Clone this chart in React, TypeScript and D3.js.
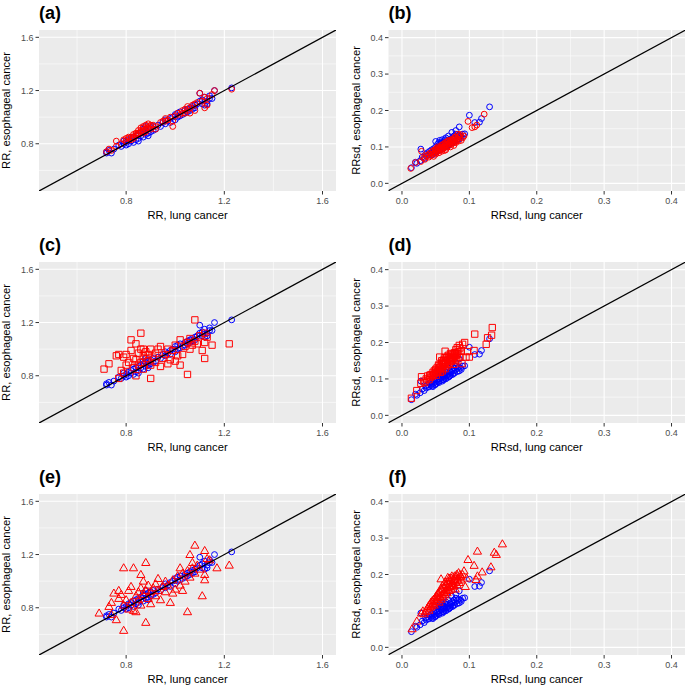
import React from "react";
import * as d3 from "d3";

// ---------- DATA ----------
// RR (lung, esophageal) – reference method (blue circles), same in a, c, e
const rrBlue: [number, number][] = [
  [0.72,0.74],[0.72,0.73],[0.73,0.75],[0.74,0.73],[0.75,0.76],[0.77,0.79],[0.78,0.78],[0.79,0.80],
  [0.79,0.82],[0.80,0.79],[0.80,0.81],[0.81,0.83],[0.81,0.80],[0.82,0.82],[0.82,0.84],[0.83,0.81],
  [0.83,0.85],[0.84,0.83],[0.84,0.86],[0.85,0.84],[0.85,0.87],[0.85,0.82],[0.86,0.86],[0.86,0.88],
  [0.87,0.85],[0.87,0.89],[0.87,0.91],[0.88,0.87],[0.88,0.90],[0.88,0.93],[0.89,0.88],[0.89,0.91],
  [0.89,0.86],[0.90,0.89],[0.90,0.92],[0.91,0.90],[0.91,0.93],[0.92,0.91],[0.93,0.94],[0.94,0.93],
  [0.95,0.96],[0.96,0.95],[0.96,0.98],[0.97,0.97],[0.98,0.99],[0.98,0.96],[0.99,1.00],[1.00,0.98],
  [1.00,1.02],[1.01,1.03],[1.01,1.00],[1.02,1.01],[1.02,1.04],[1.03,1.02],[1.04,1.05],[1.04,1.03],
  [1.05,1.06],[1.05,1.04],[1.06,1.07],[1.06,1.05],[1.07,1.08],[1.07,1.06],[1.08,1.09],[1.08,1.07],
  [1.09,1.10],[1.10,1.12],[1.10,1.18],[1.11,1.10],[1.11,1.13],[1.12,1.15],[1.12,1.09],[1.13,1.12],
  [1.13,1.10],[1.14,1.14],[1.14,1.16],[1.15,1.14],[1.16,1.20],[1.23,1.22],
];
// panel (a) red circles
const rrRedA: [number, number][] = [
  [0.72,0.74],[0.73,0.76],[0.74,0.75],[0.76,0.78],[0.76,0.82],[0.78,0.80],[0.79,0.83],[0.80,0.84],
  [0.80,0.82],[0.81,0.84],[0.82,0.85],[0.82,0.83],[0.83,0.87],[0.83,0.85],[0.84,0.88],[0.84,0.86],
  [0.85,0.90],[0.85,0.87],[0.86,0.89],[0.86,0.92],[0.87,0.90],[0.87,0.93],[0.87,0.88],[0.88,0.94],
  [0.88,0.91],[0.89,0.92],[0.89,0.95],[0.90,0.93],[0.90,0.91],[0.91,0.94],[0.92,0.91],[0.92,0.93],
  [0.94,0.96],[0.95,0.97],[0.96,0.99],[0.97,0.98],[0.98,1.00],[0.99,0.93],[0.99,0.97],[1.00,1.01],
  [1.01,1.03],[1.02,1.02],[1.03,1.05],[1.04,1.03],[1.04,1.06],[1.05,1.08],[1.06,1.03],[1.06,1.07],
  [1.07,1.09],[1.08,1.05],[1.08,1.10],[1.09,1.11],[1.10,1.18],[1.11,1.12],[1.12,1.15],[1.12,1.07],
  [1.13,1.09],[1.13,1.14],[1.15,1.17],[1.16,1.20],[1.23,1.21],
  [0.85,0.88],[0.86,0.90],[0.87,0.92],[0.88,0.89],[0.89,0.93],[0.90,0.94],[0.84,0.87],[0.83,0.84],
  [0.81,0.85],[0.96,0.97],[1.03,1.03],[1.05,1.05],
];
// panel (c) red squares
const rrRedC: [number, number][] = [
  [0.71,0.85],[0.73,0.89],[0.76,0.95],[0.77,0.96],[0.79,0.94],[0.78,0.84],[0.77,0.78],[0.79,0.82],
  [0.80,0.88],[0.80,0.96],[0.81,0.90],[0.82,0.99],[0.82,1.07],[0.83,0.86],[0.83,0.93],[0.84,1.04],
  [0.84,0.80],[0.84,0.92],[0.85,0.88],[0.85,0.97],[0.86,1.00],[0.86,1.12],[0.86,0.90],[0.87,0.95],
  [0.87,1.00],[0.87,0.85],[0.88,0.93],[0.88,0.98],[0.89,0.91],[0.89,0.96],[0.90,0.78],[0.90,1.00],
  [0.90,0.88],[0.91,0.94],[0.92,0.97],[0.92,0.90],[0.93,1.00],[0.94,1.02],[0.94,0.87],[0.95,0.93],
  [0.96,0.96],[0.97,0.89],[0.97,1.00],[0.98,0.92],[0.99,0.99],[1.00,0.91],[1.00,1.03],[1.01,0.95],
  [1.02,1.07],[1.02,0.88],[1.03,0.96],[1.04,1.02],[1.05,0.81],[1.05,1.05],[1.06,1.00],[1.06,1.08],
  [1.07,1.03],[1.08,1.22],[1.08,1.06],[1.09,1.04],[1.10,1.10],[1.11,0.99],[1.12,0.93],[1.12,1.12],
  [1.12,1.05],[1.13,1.09],[1.15,1.03],[1.22,1.04],
];
// panel (e) red triangles
const rrRedE: [number, number][] = [
  [0.69,0.76],[0.73,0.81],[0.74,0.84],[0.74,0.75],[0.75,0.91],[0.76,0.71],[0.77,0.93],[0.77,0.87],
  [0.78,0.90],[0.79,0.63],[0.79,1.10],[0.79,0.82],[0.80,0.86],[0.81,0.93],[0.81,0.79],[0.82,0.96],
  [0.82,0.84],[0.83,0.78],[0.83,1.10],[0.84,0.89],[0.84,0.77],[0.85,0.92],[0.85,0.86],[0.86,1.05],
  [0.86,0.95],[0.86,0.82],[0.87,0.90],[0.87,1.00],[0.88,1.14],[0.88,0.69],[0.88,0.93],[0.89,0.87],
  [0.89,0.97],[0.90,0.92],[0.90,0.83],[0.91,0.95],[0.92,0.89],[0.92,0.98],[0.93,1.02],[0.93,0.93],
  [0.94,0.86],[0.95,0.96],[0.96,1.00],[0.96,0.92],[0.97,0.97],[0.98,0.84],[0.99,0.91],[0.99,1.01],
  [1.00,0.94],[1.01,1.04],[1.02,1.10],[1.02,0.97],[1.03,0.93],[1.03,1.06],[1.04,1.00],[1.05,0.77],
  [1.05,1.08],[1.06,1.20],[1.06,1.03],[1.07,1.14],[1.07,1.10],[1.08,1.27],[1.08,1.06],[1.09,1.12],
  [1.10,1.09],[1.11,0.89],[1.12,1.01],[1.12,1.05],[1.12,1.23],[1.13,1.17],[1.14,1.16],[1.17,1.10],
  [1.22,1.12],
];
// RRsd (lung, esophageal) – blue circles, same in b, d, f
const sdBlue: [number, number][] = [
  [0.014,0.043],[0.020,0.058],[0.022,0.055],[0.027,0.062],[0.028,0.094],[0.030,0.072],[0.033,0.068],
  [0.035,0.080],[0.036,0.075],[0.038,0.084],[0.040,0.078],[0.041,0.088],[0.043,0.082],[0.044,0.092],
  [0.045,0.086],[0.046,0.079],[0.047,0.095],[0.048,0.090],[0.049,0.084],[0.050,0.100],[0.050,0.115],
  [0.051,0.088],[0.052,0.096],[0.053,0.108],[0.054,0.092],[0.055,0.112],[0.055,0.100],[0.056,0.118],
  [0.057,0.095],[0.058,0.104],[0.059,0.110],[0.060,0.098],[0.060,0.120],[0.061,0.106],[0.062,0.114],
  [0.063,0.102],[0.064,0.110],[0.065,0.125],[0.066,0.108],[0.067,0.118],[0.068,0.112],[0.069,0.130],
  [0.070,0.115],[0.071,0.108],[0.072,0.122],[0.073,0.118],[0.074,0.140],[0.075,0.125],[0.076,0.114],
  [0.077,0.130],[0.078,0.122],[0.080,0.135],[0.080,0.145],[0.082,0.128],[0.084,0.132],[0.085,0.155],
  [0.087,0.130],[0.090,0.135],[0.093,0.136],[0.100,0.187],[0.108,0.167],[0.115,0.168],[0.118,0.178],
  [0.130,0.210],
  [0.045,0.080],[0.050,0.085],[0.055,0.090],[0.060,0.094],[0.062,0.098],[0.065,0.100],[0.068,0.104],
  [0.070,0.106],[0.072,0.110],[0.075,0.112],[0.078,0.116],[0.082,0.120],[0.085,0.122],[0.088,0.126],
  [0.064,0.120],[0.058,0.112],
];
// panel (b) red circles
const sdRedB: [number, number][] = [
  [0.013,0.041],[0.020,0.057],[0.028,0.060],[0.029,0.088],[0.032,0.070],[0.034,0.066],[0.036,0.074],
  [0.038,0.078],[0.040,0.072],[0.041,0.082],[0.043,0.076],[0.044,0.086],[0.045,0.080],[0.046,0.090],
  [0.047,0.074],[0.048,0.084],[0.049,0.092],[0.050,0.080],[0.051,0.096],[0.052,0.086],[0.053,0.100],
  [0.054,0.090],[0.055,0.084],[0.056,0.098],[0.057,0.092],[0.058,0.104],[0.059,0.088],[0.060,0.100],
  [0.061,0.094],[0.062,0.108],[0.063,0.098],[0.064,0.104],[0.065,0.092],[0.066,0.112],[0.067,0.100],
  [0.068,0.108],[0.069,0.118],[0.070,0.104],[0.071,0.112],[0.072,0.100],[0.073,0.116],[0.074,0.108],
  [0.075,0.122],[0.076,0.112],[0.077,0.104],[0.078,0.118],[0.079,0.128],[0.080,0.112],[0.082,0.122],
  [0.083,0.135],[0.084,0.116],[0.086,0.126],[0.088,0.118],[0.090,0.125],[0.092,0.130],[0.098,0.170],
  [0.104,0.153],[0.108,0.155],[0.111,0.160],[0.122,0.190],
  [0.047,0.082],[0.050,0.090],[0.053,0.094],[0.055,0.096],[0.057,0.100],[0.059,0.096],[0.060,0.106],
  [0.062,0.100],[0.064,0.112],[0.066,0.104],[0.068,0.116],[0.070,0.110],[0.072,0.118],[0.074,0.114],
  [0.076,0.120],[0.078,0.112],[0.080,0.126],[0.081,0.118],[0.085,0.130],[0.087,0.134],[0.058,0.094],
  [0.063,0.090],
];
// panel (d) red squares
const sdRedD: [number, number][] = [
  [0.014,0.047],[0.022,0.068],[0.028,0.088],[0.029,0.106],[0.032,0.094],[0.034,0.090],[0.036,0.100],
  [0.038,0.108],[0.040,0.098],[0.041,0.110],[0.042,0.104],[0.043,0.112],[0.045,0.108],[0.046,0.118],
  [0.047,0.112],[0.048,0.122],[0.049,0.115],[0.050,0.126],[0.051,0.110],[0.052,0.130],[0.053,0.120],
  [0.054,0.136],[0.055,0.125],[0.056,0.160],[0.056,0.132],[0.057,0.118],[0.058,0.140],[0.059,0.128],
  [0.060,0.146],[0.060,0.122],[0.061,0.134],[0.062,0.152],[0.063,0.140],[0.064,0.176],[0.064,0.128],
  [0.065,0.145],[0.066,0.158],[0.067,0.136],[0.068,0.150],[0.069,0.165],[0.070,0.142],[0.071,0.156],
  [0.072,0.170],[0.073,0.148],[0.074,0.160],[0.075,0.152],[0.076,0.168],[0.077,0.140],[0.078,0.162],
  [0.079,0.170],[0.080,0.155],[0.081,0.165],[0.082,0.186],[0.083,0.150],[0.085,0.192],[0.086,0.160],
  [0.088,0.176],[0.089,0.142],[0.090,0.195],[0.093,0.200],[0.095,0.160],[0.097,0.175],[0.100,0.160],
  [0.107,0.178],[0.108,0.223],[0.125,0.195],[0.127,0.213],[0.133,0.220],[0.134,0.241],
  [0.052,0.118],[0.055,0.140],[0.057,0.130],[0.059,0.150],[0.061,0.142],[0.063,0.158],[0.065,0.150],
  [0.067,0.162],[0.068,0.140],[0.070,0.160],[0.072,0.152],[0.074,0.168],[0.076,0.158],[0.078,0.172],
  [0.080,0.180],[0.082,0.170],[0.084,0.175],[0.086,0.185],
];
// panel (f) red triangles
const sdRedF: [number, number][] = [
  [0.015,0.051],[0.022,0.072],[0.029,0.094],[0.031,0.100],[0.033,0.092],[0.035,0.098],[0.037,0.106],
  [0.039,0.112],[0.040,0.102],[0.041,0.118],[0.042,0.110],[0.043,0.124],[0.044,0.114],[0.045,0.128],
  [0.046,0.120],[0.047,0.132],[0.048,0.116],[0.049,0.136],[0.050,0.126],[0.051,0.142],[0.052,0.130],
  [0.053,0.148],[0.054,0.136],[0.055,0.124],[0.056,0.154],[0.057,0.140],[0.058,0.188],[0.058,0.132],
  [0.059,0.160],[0.060,0.146],[0.061,0.138],[0.062,0.166],[0.063,0.152],[0.064,0.144],[0.065,0.172],
  [0.066,0.158],[0.067,0.150],[0.068,0.192],[0.068,0.164],[0.069,0.176],[0.070,0.156],[0.071,0.168],
  [0.072,0.182],[0.073,0.190],[0.073,0.160],[0.074,0.174],[0.075,0.166],[0.076,0.186],[0.077,0.170],
  [0.078,0.196],[0.079,0.160],[0.080,0.180],[0.081,0.200],[0.082,0.172],[0.083,0.190],[0.084,0.205],
  [0.085,0.178],[0.087,0.196],[0.088,0.185],[0.090,0.200],[0.092,0.210],[0.094,0.167],[0.096,0.190],
  [0.098,0.241],[0.107,0.225],[0.110,0.186],[0.112,0.196],[0.112,0.264],[0.119,0.207],[0.132,0.221],
  [0.137,0.261],[0.140,0.255],[0.149,0.284],
  [0.052,0.138],[0.054,0.150],[0.056,0.140],[0.058,0.160],[0.060,0.170],[0.062,0.150],[0.064,0.180],
  [0.066,0.172],[0.068,0.180],[0.070,0.190],[0.072,0.168],[0.074,0.196],[0.076,0.176],[0.078,0.186],
  [0.080,0.194],[0.082,0.184],[0.086,0.200],[0.088,0.195],
];

const rrMajor = [0.8, 1.2, 1.6];
const rrMinor = [0.6, 1.0, 1.4];
const sdMajor = [0.0, 0.1, 0.2, 0.3, 0.4];
const sdMinor = [0.05, 0.15, 0.25, 0.35];
const panelLabels = ["(a)", "(b)", "(c)", "(d)", "(e)", "(f)"];

type Shape = "circle" | "square" | "triangle";

const FONT = "'Liberation Sans', Arial, Helvetica, sans-serif";

interface PanelProps {
  id: string;
  label: string;
  x0: number; x1: number; y0: number; y1: number;
  xDomain: [number, number]; yDomain: [number, number];
  major: number[]; minor: number[];
  blue: [number, number][]; red: [number, number][];
  shape: Shape;
  xTitle: string; yTitle: string;
  fmt: (v: number) => string;
}

function Panel(p: PanelProps) {
  const xs = d3.scaleLinear().domain(p.xDomain).range([p.x0, p.x1]);
  const ys = d3.scaleLinear().domain(p.yDomain).range([p.y1, p.y0]);
  const clipId = `clip-${p.id}`;
  const lo = Math.min(p.xDomain[0], p.yDomain[0]) - 1;
  const hi = Math.max(p.xDomain[1], p.yDomain[1]) + 1;
  const line = d3.line<[number, number]>().x(d => xs(d[0])).y(d => ys(d[1]));
  const sq = d3.symbol().type(d3.symbolSquare).size(40)()!;
  const tri = d3.symbol().type(d3.symbolTriangle).size(29)()!;
  const inX = (v: number) => v >= p.xDomain[0] && v <= p.xDomain[1];
  const inY = (v: number) => v >= p.yDomain[0] && v <= p.yDomain[1];
  const midY = (p.y0 + p.y1) / 2;
  const midX = (p.x0 + p.x1) / 2;
  return (
    <g>
      <defs>
        <clipPath id={clipId}>
          <rect x={p.x0} y={p.y0} width={p.x1 - p.x0} height={p.y1 - p.y0} />
        </clipPath>
      </defs>
      <text x={p.x0} y={p.y0 - 11.5} fontFamily={FONT} fontWeight="bold" fontSize={18} fill="#000">{p.label}</text>
      <rect x={p.x0} y={p.y0} width={p.x1 - p.x0} height={p.y1 - p.y0} fill="#EBEBEB" />
      {p.minor.filter(inX).map(v => (
        <line key={"vx" + v} x1={xs(v)} x2={xs(v)} y1={p.y0} y2={p.y1} stroke="#fff" strokeWidth={0.55} />
      ))}
      {p.minor.filter(inY).map(v => (
        <line key={"vy" + v} x1={p.x0} x2={p.x1} y1={ys(v)} y2={ys(v)} stroke="#fff" strokeWidth={0.55} />
      ))}
      {p.major.filter(inX).map(v => (
        <line key={"mx" + v} x1={xs(v)} x2={xs(v)} y1={p.y0} y2={p.y1} stroke="#fff" strokeWidth={1.1} />
      ))}
      {p.major.filter(inY).map(v => (
        <line key={"my" + v} x1={p.x0} x2={p.x1} y1={ys(v)} y2={ys(v)} stroke="#fff" strokeWidth={1.1} />
      ))}
      <g clipPath={`url(#${clipId})`}>
        {p.blue.map((d, i) => (
          <circle key={"b" + i} cx={xs(d[0])} cy={ys(d[1])} r={2.9} fill="none" stroke="#0000FF" strokeWidth={1} />
        ))}
        {p.red.map((d, i) =>
          p.shape === "circle" ? (
            <circle key={"r" + i} cx={xs(d[0])} cy={ys(d[1])} r={2.9} fill="none" stroke="#FF0000" strokeWidth={1} />
          ) : (
            <path key={"r" + i} d={p.shape === "square" ? sq : tri}
              transform={`translate(${xs(d[0])},${ys(d[1]) + (p.shape === "triangle" ? 0.6 : 0)})`}
              fill="none" stroke="#FF0000" strokeWidth={1} />
          )
        )}
        <path d={line([[lo, lo], [hi, hi]])!} stroke="#000" strokeWidth={1.3} fill="none" />
      </g>
      {p.major.filter(inX).map(v => (
        <g key={"tx" + v}>
          <line x1={xs(v)} x2={xs(v)} y1={p.y1} y2={p.y1 + 3.5} stroke="#333" strokeWidth={1} />
          <text x={xs(v)} y={p.y1 + 12.5} textAnchor="middle" fontFamily={FONT} fontSize={9} fill="#4D4D4D">{p.fmt(v)}</text>
        </g>
      ))}
      {p.major.filter(inY).map(v => (
        <g key={"ty" + v}>
          <line x1={p.x0 - 3.5} x2={p.x0} y1={ys(v)} y2={ys(v)} stroke="#333" strokeWidth={1} />
          <text x={p.x0 - 5.5} y={ys(v) + 3.2} textAnchor="end" fontFamily={FONT} fontSize={9} fill="#4D4D4D">{p.fmt(v)}</text>
        </g>
      ))}
      <text x={midX} y={p.y1 + 28} textAnchor="middle" fontFamily={FONT} fontSize={11.2} fill="#000">{p.xTitle}</text>
      <text transform={`translate(${p.x0 - 29},${midY}) rotate(-90)`} textAnchor="middle" fontFamily={FONT} fontSize={11.2} fill="#000">{p.yTitle}</text>
    </g>
  );
}

export default function App() {
  const rows = [30, 262, 494];
  const H = 161;
  const left: [number, number] = [39, 336];
  const right: [number, number] = [388.5, 685];
  const rrDom: [number, number] = [0.445, 1.655];
  const sdDomX: [number, number] = [-0.02, 0.42];
  const sdDomY: [number, number] = [-0.021, 0.421];
  const rrReds = [rrRedA, rrRedC, rrRedE];
  const sdReds = [sdRedB, sdRedD, sdRedF];
  const shapes: Shape[] = ["circle", "square", "triangle"];
  return (
    <svg width={685} height={687} style={{ position: "absolute", left: 0, top: 0, background: "#fff" }}>
      <rect x={0} y={0} width={685} height={687} fill="#fff" />
      {rows.map((y0, r) => (
        <g key={r}>
          <Panel id={"L" + r} label={panelLabels[r * 2]} x0={left[0]} x1={left[1]} y0={y0} y1={y0 + H}
            xDomain={rrDom} yDomain={rrDom} major={rrMajor} minor={rrMinor}
            blue={rrBlue} red={rrReds[r]} shape={shapes[r]}
            xTitle="RR, lung cancer" yTitle="RR, esophageal cancer" fmt={d3.format(".1f")} />
          <Panel id={"R" + r} label={panelLabels[r * 2 + 1]} x0={right[0]} x1={right[1]} y0={y0} y1={y0 + H}
            xDomain={sdDomX} yDomain={sdDomY} major={sdMajor} minor={sdMinor}
            blue={sdBlue} red={sdReds[r]} shape={shapes[r]}
            xTitle="RRsd, lung cancer" yTitle="RRsd, esophageal cancer" fmt={d3.format(".1f")} />
        </g>
      ))}
    </svg>
  );
}
